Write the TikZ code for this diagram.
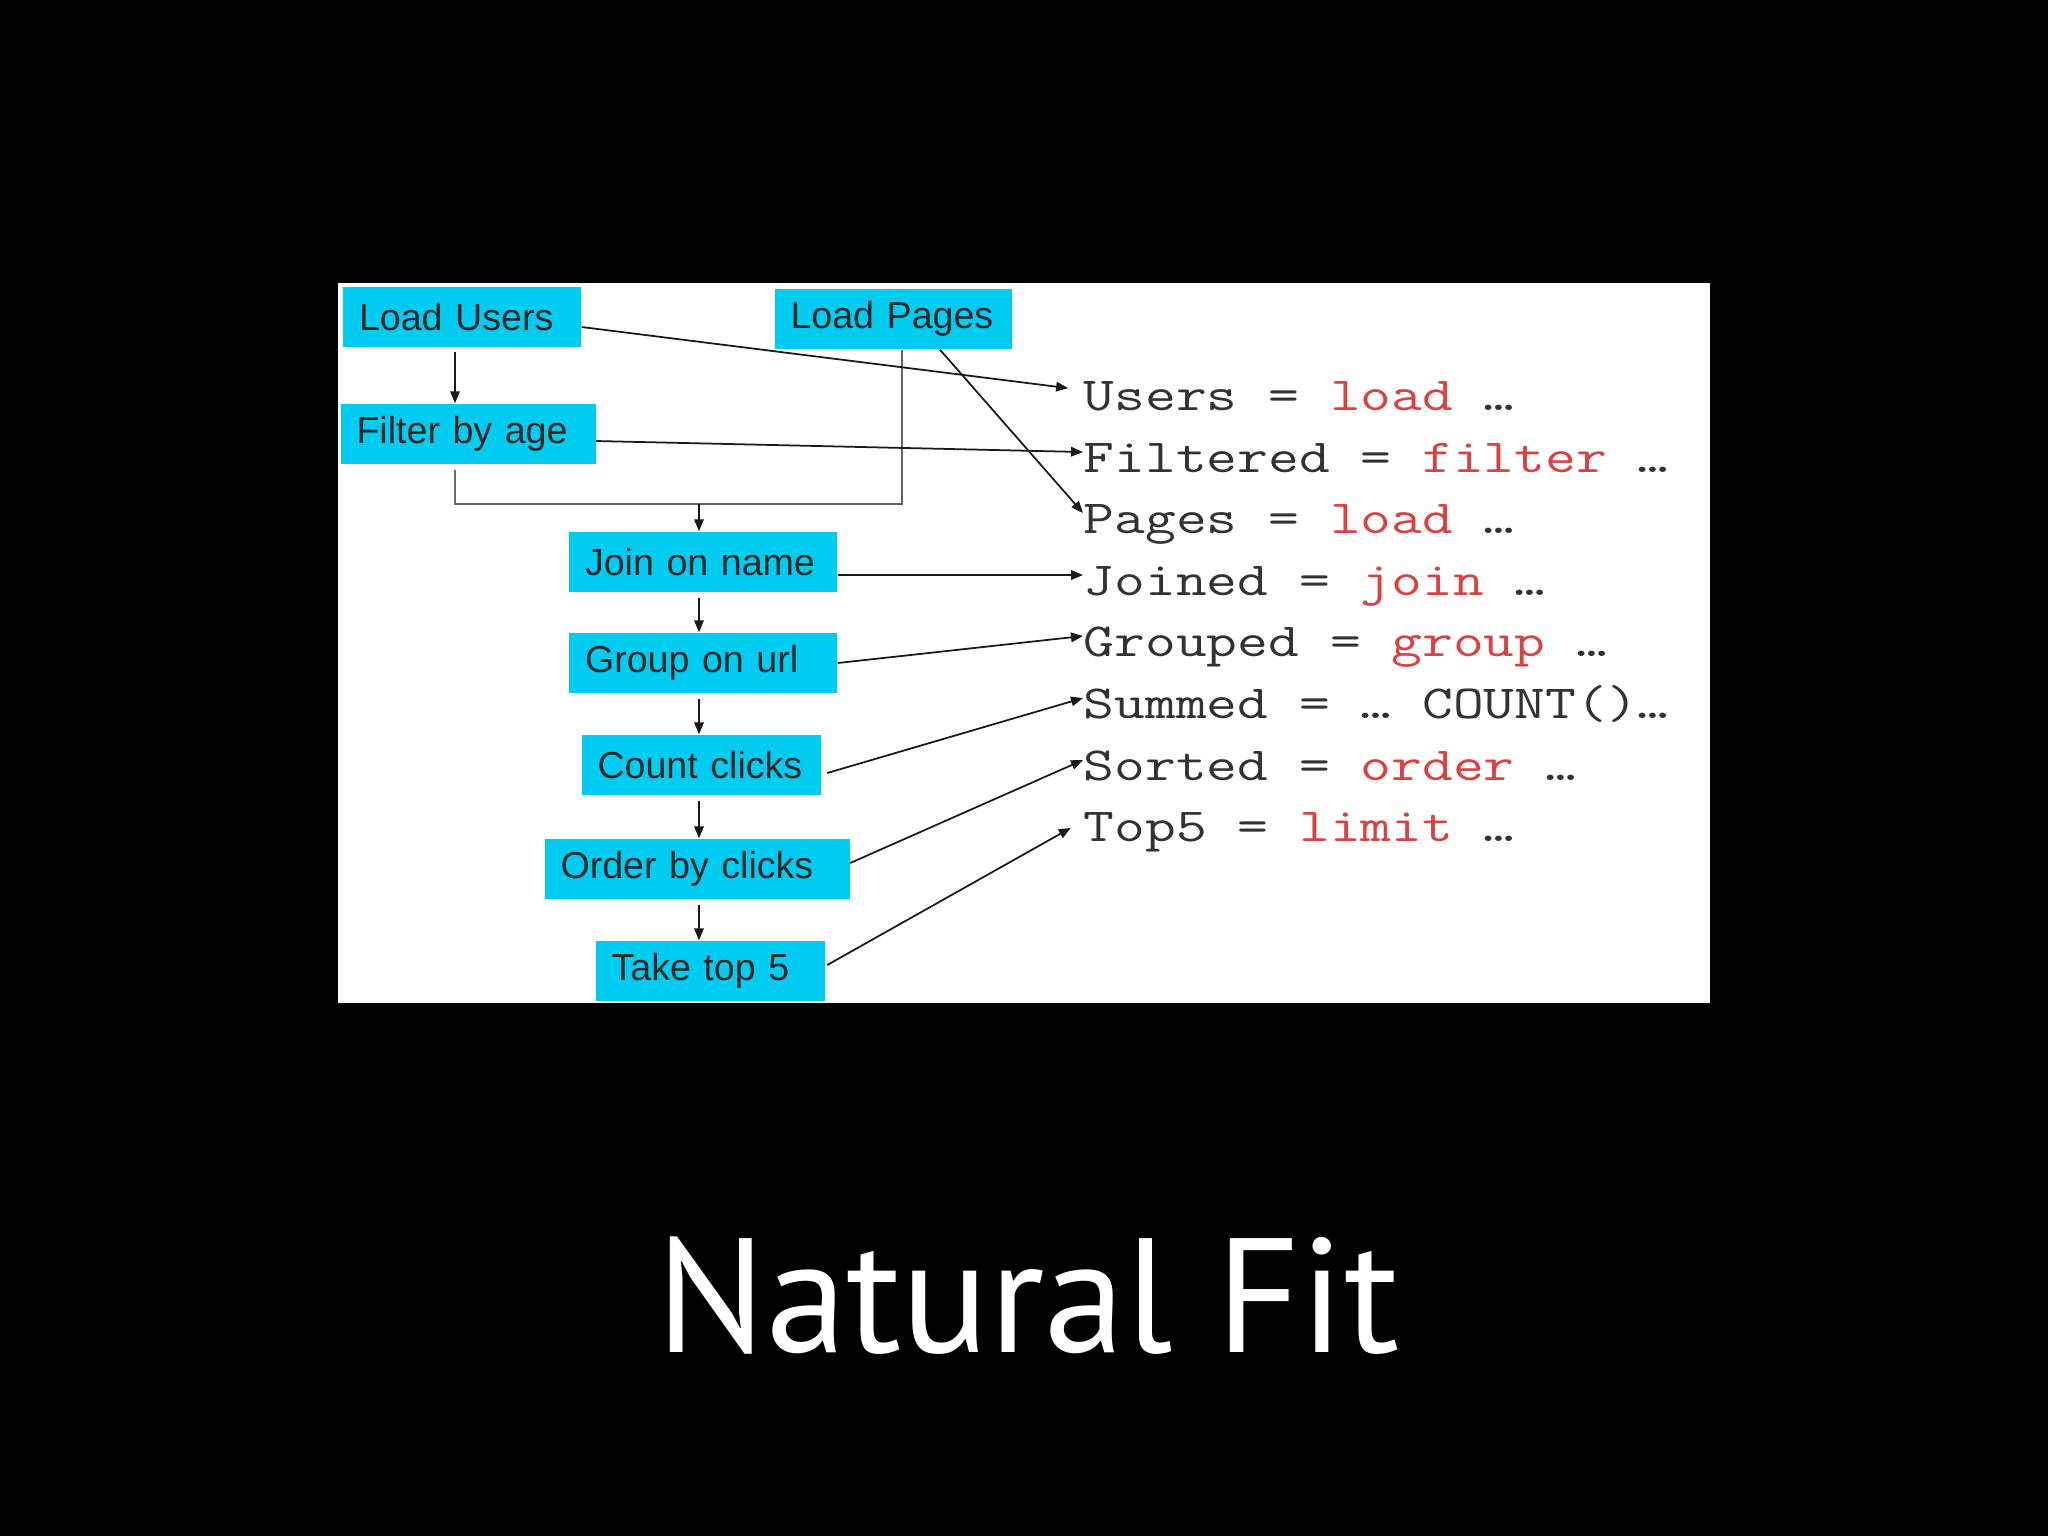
\documentclass[tikz,border=0pt]{standalone}
\usepackage{fontspec}
\setmainfont{Liberation Sans}
\newfontfamily\codefont[FakeStretch=1.26]{Latin Modern Mono}
\newfontfamily\titlefont{PT Sans}
\usetikzlibrary{arrows.meta,positioning,calc}
\definecolor{boxcyan}{RGB}{0,204,242}
\definecolor{kwred}{RGB}{218,66,66}
\definecolor{codegray}{RGB}{50,50,50}
\newcommand{\kw}[1]{\textcolor{kwred}{#1}}

\begin{document}
\begin{tikzpicture}[x=0.1mm, y=-0.1mm,
  box/.style={fill=boxcyan, text=black!85, font=\fontsize{10.7}{12}\selectfont, minimum height=6mm, inner xsep=1.6mm, inner ysep=0pt, align=left},
  code/.style={anchor=base west, inner sep=0pt, text height=4mm, text depth=0mm, text=codegray, font=\codefont\fontsize{13.5}{16}\selectfont},
  arr/.style={-{Triangle[length=1.2mm,width=0.95mm]}, line width=0.5pt, black!90},
  joinline/.style={black!60, line width=0.8pt}]
\fill[black] (0,0) rectangle (2048,1536);
\fill[white] (338,283) rectangle (1710,1003);
\node[box, text width=20.6mm] (lu) at (462,317) {Load Users};
\node[box, text width=20.5mm] (lp) at (893,319) {Load Pages};
\node[box, text width=22.3mm] (fa) at (468,434) {Filter by age};
\node[box, text width=23.6mm] (jn) at (703,562) {Join on name};
\node[box, text width=23.6mm] (gu) at (703,663) {Group on url};
\node[box, text width=20.7mm] (cc) at (701,765) {Count clicks};
\node[box, text width=27.3mm] (oc) at (697,869) {Order by clicks};
\node[box, text width=19.7mm] (t5) at (710,971) {Take top 5};
\node[code] (users) at (1083,410) {Users = \kw{load} …};
\node[code] (filtered) at (1083,472) {Filtered = \kw{filter} …};
\node[code] (pages) at (1083,533) {Pages = \kw{load} …};
\node[code] (joined) at (1083,595) {Joined = \kw{join} …};
\node[code] (grouped) at (1083,656) {Grouped = \kw{group} …};
\node[code] (summed) at (1083,718) {Summed = … COUNT()…};
\node[code] (sorted) at (1083,780) {Sorted = \kw{order} …};
\node[code] (top5) at (1083,841) {Top5 = \kw{limit} …};
\coordinate (ux) at (455,0);
\coordinate (sx) at (699,0);
\coordinate (px) at (902,0);
\coordinate (mg) at (699,504);
\draw[arr, shorten <=0.4mm] (lu.south -| ux) -- (fa.north -| ux);
\draw[joinline] ([yshift=-0.5mm]fa.south -| ux) |- (mg) -| (lp.south -| px);
\draw[arr] (mg) -- (jn.north -| mg);
\foreach \a/\b in {jn/gu,gu/cc,cc/oc,oc/t5}{\draw[arr, shorten <=0.5mm] (\a.south -| sx) -- (\b.north -| sx);}
\draw[arr, shorten >=1.5mm] ([yshift=-1mm]lu.east) -- (users.west);
\draw[arr] ([yshift=-0.7mm]fa.east) -- (filtered.west);
\draw[arr] ([xshift=4.7mm]lp.south) -- (pages.west);
\draw[arr] (jn.east |- joined.west) -- (joined.west);
\draw[arr] (gu.east) -- (grouped.west);
\draw[arr] ([shift={(0.6mm,-0.8mm)}]cc.east) -- (summed.west);
\draw[arr] ([yshift=0.6mm]oc.east) -- (sorted.west);
\draw[arr, shorten >=1.4mm] ([shift={(0.2mm,0.6mm)}]t5.east) -- (top5.west);
\node[text=white, font=\titlefont\fontsize{46.3}{56}\selectfont, anchor=base] (title) at (1028,1352) {Natural Fit};
\end{tikzpicture}
\end{document}
